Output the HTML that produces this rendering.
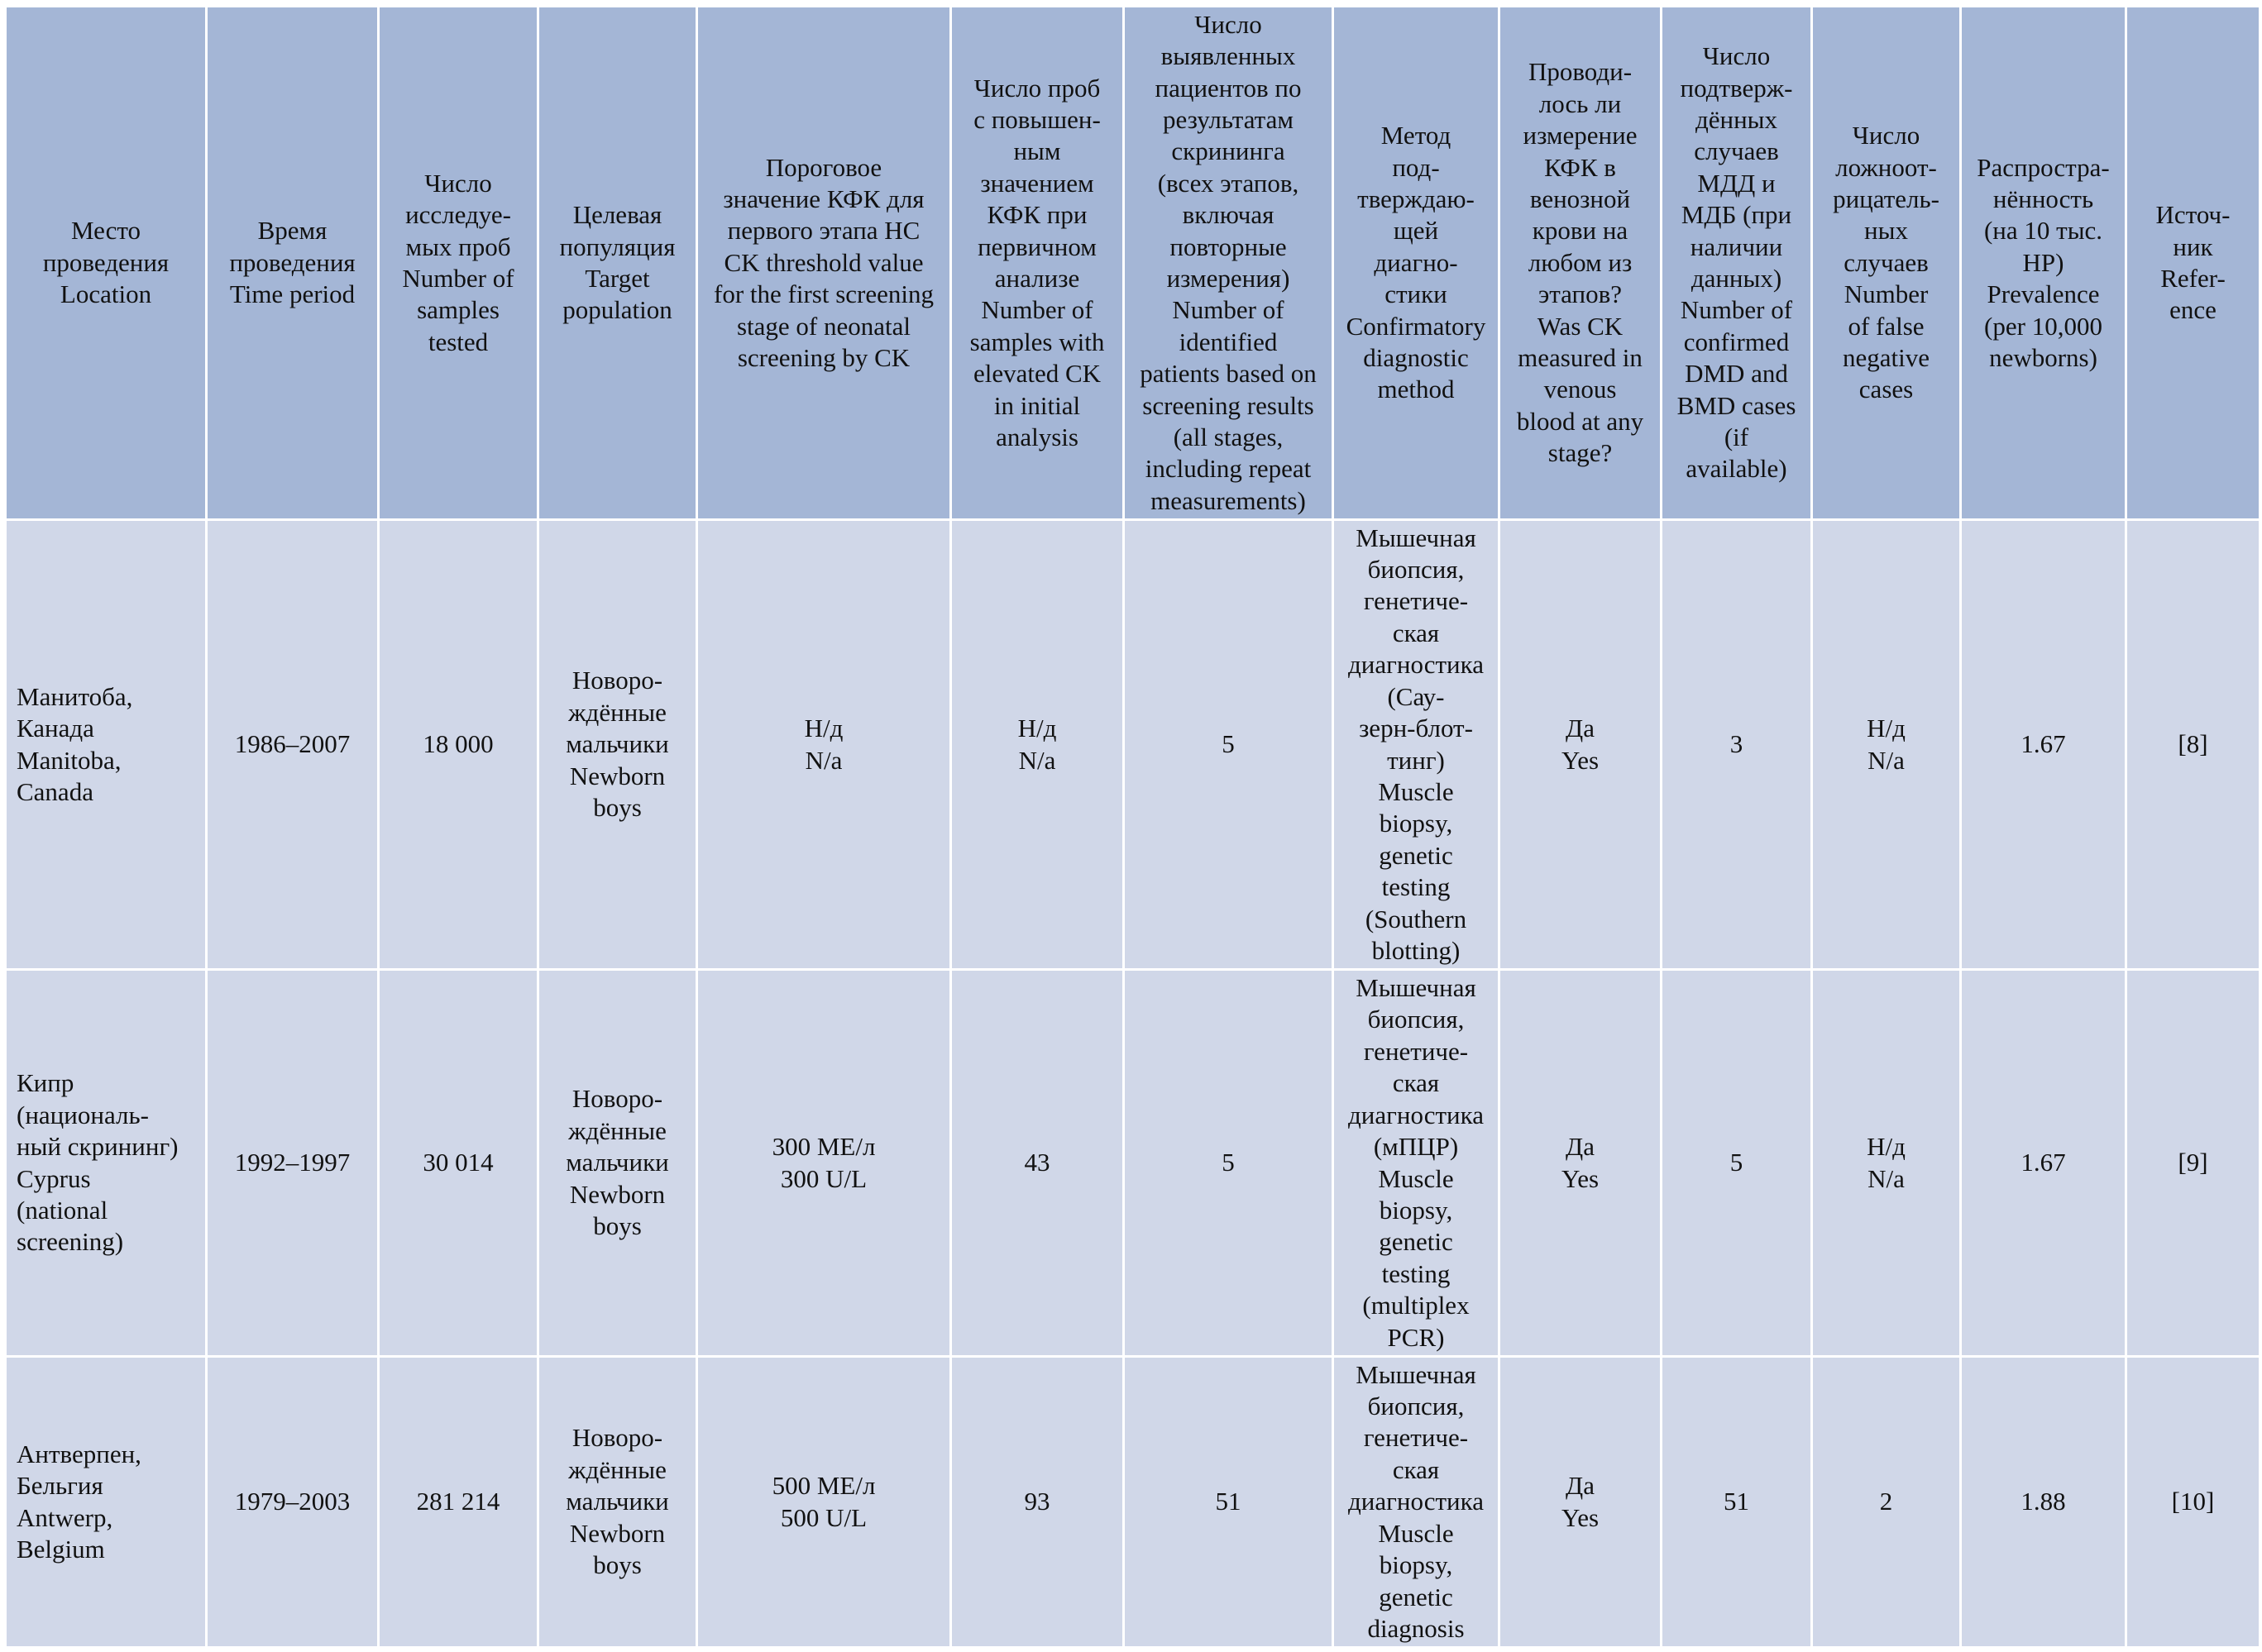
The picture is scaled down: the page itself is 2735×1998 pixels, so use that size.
<!DOCTYPE html>
<html><head><meta charset="utf-8">
<style>
html,body{margin:0;padding:0;background:#fff;width:2735px;height:1998px;overflow:hidden}
table{position:absolute;left:5px;top:6px;border-collapse:collapse;table-layout:fixed;font-family:"Times New Roman","Liberation Serif","DejaVu Serif",serif;font-size:31px;line-height:38.4px;color:#111}
td{border:3px solid #fff;text-align:center;vertical-align:middle;padding:0;white-space:nowrap;overflow:hidden}
tr.h td{background:#a4b6d6}
tr.b td{background:#d0d7e8}
td.l{text-align:left;padding-left:12px}
</style></head><body>
<table>
<colgroup>
<col style="width:243px"><col style="width:208px"><col style="width:193px"><col style="width:192px"><col style="width:307px"><col style="width:209px"><col style="width:253px"><col style="width:201px"><col style="width:196px"><col style="width:182px"><col style="width:180px"><col style="width:200px"><col style="width:162px">
</colgroup>
<tr class="h" style="height:621px">
<td>Место<br>проведения<br>Location</td>
<td>Время<br>проведения<br>Time period</td>
<td>Число<br>исследуе-<br>мых проб<br>Number of<br>samples<br>tested</td>
<td>Целевая<br>популяция<br>Target<br>population</td>
<td>Пороговое<br>значение КФК для<br>первого этапа НС<br>CK threshold value<br>for the first screening<br>stage of neonatal<br>screening by CK</td>
<td>Число проб<br>с повышен-<br>ным<br>значением<br>КФК при<br>первичном<br>анализе<br>Number of<br>samples with<br>elevated CK<br>in initial<br>analysis</td>
<td>Число<br>выявленных<br>пациентов по<br>результатам<br>скрининга<br>(всех этапов,<br>включая<br>повторные<br>измерения)<br>Number of<br>identified<br>patients based on<br>screening results<br>(all stages,<br>including repeat<br>measurements)</td>
<td>Метод<br>под-<br>тверждаю-<br>щей<br>диагно-<br>стики<br>Confirmatory<br>diagnostic<br>method</td>
<td>Проводи-<br>лось ли<br>измерение<br>КФК в<br>венозной<br>крови на<br>любом из<br>этапов?<br>Was CK<br>measured in<br>venous<br>blood at any<br>stage?</td>
<td>Число<br>подтверж-<br>дённых<br>случаев<br>МДД и<br>МДБ (при<br>наличии<br>данных)<br>Number of<br>confirmed<br>DMD and<br>BMD cases<br>(if<br>available)</td>
<td>Число<br>ложноот-<br>рицатель-<br>ных<br>случаев<br>Number<br>of false<br>negative<br>cases</td>
<td>Распростра-<br>нённость<br>(на 10 тыс.<br>НР)<br>Prevalence<br>(per 10,000<br>newborns)</td>
<td>Источ-<br>ник<br>Refer-<br>ence</td>
</tr>
<tr class="b" style="height:544px">
<td class="l">Манитоба,<br>Канада<br>Manitoba,<br>Canada</td>
<td>1986–2007</td>
<td>18 000</td>
<td>Новоро-<br>ждённые<br>мальчики<br>Newborn<br>boys</td>
<td>Н/д<br>N/a</td>
<td>Н/д<br>N/a</td>
<td>5</td>
<td>Мышечная<br>биопсия,<br>генетиче-<br>ская<br>диагностика<br>(Сау-<br>зерн-блот-<br>тинг)<br>Muscle<br>biopsy,<br>genetic<br>testing<br>(Southern<br>blotting)</td>
<td>Да<br>Yes</td>
<td>3</td>
<td>Н/д<br>N/a</td>
<td>1.67</td>
<td>[8]</td>
</tr>
<tr class="b" style="height:468px">
<td class="l">Кипр<br>(националь-<br>ный скрининг)<br>Cyprus<br>(national<br>screening)</td>
<td>1992–1997</td>
<td>30 014</td>
<td>Новоро-<br>ждённые<br>мальчики<br>Newborn<br>boys</td>
<td>300 МЕ/л<br>300 U/L</td>
<td>43</td>
<td>5</td>
<td>Мышечная<br>биопсия,<br>генетиче-<br>ская<br>диагностика<br>(мПЦР)<br>Muscle<br>biopsy,<br>genetic<br>testing<br>(multiplex<br>PCR)</td>
<td>Да<br>Yes</td>
<td>5</td>
<td>Н/д<br>N/a</td>
<td>1.67</td>
<td>[9]</td>
</tr>
<tr class="b" style="height:352px">
<td class="l">Антверпен,<br>Бельгия<br>Antwerp,<br>Belgium</td>
<td>1979–2003</td>
<td>281 214</td>
<td>Новоро-<br>ждённые<br>мальчики<br>Newborn<br>boys</td>
<td>500 МЕ/л<br>500 U/L</td>
<td>93</td>
<td>51</td>
<td>Мышечная<br>биопсия,<br>генетиче-<br>ская<br>диагностика<br>Muscle<br>biopsy,<br>genetic<br>diagnosis</td>
<td>Да<br>Yes</td>
<td>51</td>
<td>2</td>
<td>1.88</td>
<td>[10]</td>
</tr>
</table>
</body></html>
